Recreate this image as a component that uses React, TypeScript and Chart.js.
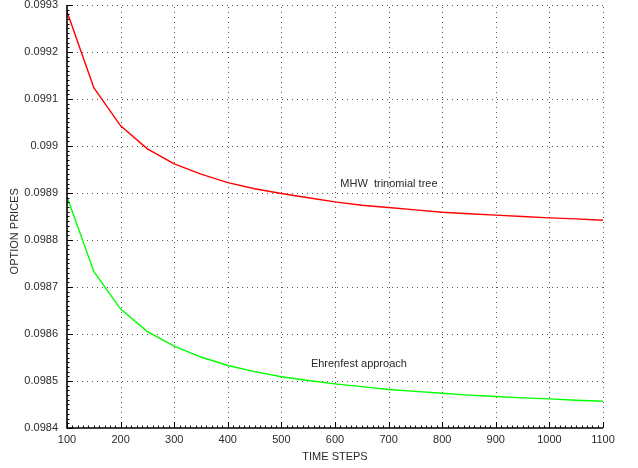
import React, { useEffect, useRef } from "react";
import { Chart, registerables } from "chart.js";

Chart.register(...registerables);

const timeSteps = [100, 150, 200, 250, 300, 350, 400, 450, 500, 550, 600, 650, 700, 750, 800, 850, 900, 950, 1000, 1050, 1100];
const mhwTrinomial = [0.099286, 0.099124, 0.099043, 0.098994, 0.098962, 0.09894, 0.098922, 0.098909, 0.098899, 0.09889, 0.098881, 0.098874, 0.098869, 0.098864, 0.098859, 0.098856, 0.098853, 0.09885, 0.098847, 0.098845, 0.098842];
const ehrenfest = [0.098892, 0.098733, 0.098653, 0.098605, 0.098574, 0.098551, 0.098533, 0.09852, 0.098509, 0.098501, 0.098494, 0.098488, 0.098482, 0.098478, 0.098474, 0.09847, 0.098467, 0.098464, 0.098462, 0.098459, 0.098457];
const xTicks = [100, 200, 300, 400, 500, 600, 700, 800, 900, 1000, 1100];
const yTicks = [0.0984, 0.0985, 0.0986, 0.0987, 0.0988, 0.0989, 0.099, 0.0991, 0.0992, 0.0993];
const labelMHW = "MHW  trinomial tree";
const labelEhrenfest = "Ehrenfest approach";
const annotationX = [610, 555];
const annotationY = [0.098919, 0.098536];
const xTitle = "TIME STEPS";
const yTitle = "OPTION PRICES";

const FONT = "'Liberation Sans', Arial, Helvetica, sans-serif";
const TEXT_COLOR = "#2a2a2a";

const axesPlugin = {
  id: "customAxes",
  beforeDatasetsDraw(chart: any) {
    const { ctx, chartArea } = chart;
    const xs = chart.scales.x;
    const ys = chart.scales.y;
    ctx.save();
    ctx.strokeStyle = "#555";
    ctx.lineWidth = 1;
    ctx.setLineDash([1, 4]);
    for (const v of xTicks) {
      if (v === xTicks[0]) continue;
      const px = Math.round(xs.getPixelForValue(v)) + 0.5;
      ctx.beginPath();
      ctx.moveTo(px, chartArea.bottom);
      ctx.lineTo(px, chartArea.top);
      ctx.stroke();
    }
    for (const v of yTicks) {
      if (v === yTicks[0]) continue;
      const py = Math.round(ys.getPixelForValue(v)) + 0.5;
      ctx.beginPath();
      ctx.moveTo(chartArea.left, py);
      ctx.lineTo(chartArea.right, py);
      ctx.stroke();
    }
    ctx.restore();
  },
  afterDatasetsDraw(chart: any) {
    const { ctx, chartArea } = chart;
    const xs = chart.scales.x;
    const ys = chart.scales.y;
    ctx.save();
    ctx.setLineDash([]);
    ctx.strokeStyle = "#000";
    ctx.lineWidth = 1;
    const xStep = (xTicks[1] - xTicks[0]) / 10;
    for (let i = 0; i <= (xTicks.length - 1) * 10; i++) {
      const v = xTicks[0] + i * xStep;
      const px = Math.round(xs.getPixelForValue(v)) + 0.5;
      const len = i % 10 === 0 ? 6 : 2.5;
      ctx.beginPath();
      ctx.moveTo(px, chartArea.bottom);
      ctx.lineTo(px, chartArea.bottom - len);
      ctx.stroke();
    }
    const yStep = (yTicks[1] - yTicks[0]) / 10;
    for (let i = 0; i <= (yTicks.length - 1) * 10; i++) {
      const v = yTicks[0] + i * yStep;
      const py = Math.round(ys.getPixelForValue(v)) + 0.5;
      const len = i % 10 === 0 ? 6 : 2.5;
      ctx.beginPath();
      ctx.moveTo(chartArea.left, py);
      ctx.lineTo(chartArea.left + len, py);
      ctx.stroke();
    }
    ctx.lineWidth = 1.6;
    ctx.beginPath();
    ctx.moveTo(chartArea.left, chartArea.top);
    ctx.lineTo(chartArea.left, chartArea.bottom);
    ctx.lineTo(chartArea.right, chartArea.bottom);
    ctx.stroke();
    ctx.fillStyle = TEXT_COLOR;
    ctx.font = `11px ${FONT}`;
    ctx.textAlign = "left";
    ctx.textBaseline = "middle";
    const labels = [labelMHW, labelEhrenfest];
    labels.forEach((t, i) => {
      ctx.fillText(t, xs.getPixelForValue(annotationX[i]), ys.getPixelForValue(annotationY[i]));
    });
    // y-axis title (placed slightly below the plot's middle, as in the original)
    ctx.save();
    ctx.translate(15, chartArea.top + (chartArea.bottom - chartArea.top) * 0.535);
    ctx.rotate(-Math.PI / 2);
    ctx.textAlign = "center";
    ctx.textBaseline = "middle";
    ctx.fillText(yTitle, 0, 0);
    ctx.restore();
    ctx.restore();
  },
};

function fmt(v: number) {
  return String(Math.round(v * 1e4) / 1e4);
}

export default function App() {
  const ref = useRef<HTMLCanvasElement | null>(null);
  useEffect(() => {
    document.body.style.margin = "0";
    const canvas = ref.current;
    if (!canvas) return;
    const chart = new Chart(canvas, {
      type: "line",
      data: {
        datasets: [
          {
            label: labelMHW,
            data: timeSteps.map((x, i) => ({ x, y: mhwTrinomial[i] })),
            borderColor: "#ff0000",
            borderWidth: 1.4,
            pointRadius: 0,
            tension: 0,
            fill: false,
          },
          {
            label: labelEhrenfest,
            data: timeSteps.map((x, i) => ({ x, y: ehrenfest[i] })),
            borderColor: "#00ff00",
            borderWidth: 1.4,
            pointRadius: 0,
            tension: 0,
            fill: false,
          },
        ],
      },
      options: {
        responsive: false,
        animation: false,
        devicePixelRatio: 1,
        layout: { padding: { top: 5, right: 35, left: 0, bottom: 0 } },
        plugins: { legend: { display: false }, tooltip: { enabled: false } },
        scales: {
          x: {
            type: "linear",
            min: xTicks[0],
            max: xTicks[xTicks.length - 1],
            grid: { display: false, drawTicks: false },
            border: { display: false },
            afterBuildTicks: (s: any) => {
              s.ticks = xTicks.map((v) => ({ value: v }));
            },
            afterFit: (s: any) => {
              s.height = 40;
              s.paddingLeft = 0;
              s.paddingRight = 0;
            },
            ticks: {
              padding: 5,
              color: TEXT_COLOR,
              font: { family: FONT, size: 11 },
              maxRotation: 0,
              autoSkip: false,
              callback: (v: any) => String(v),
            },
            title: {
              display: true,
              text: xTitle,
              color: TEXT_COLOR,
              font: { family: FONT, size: 11 },
              padding: { top: 0, bottom: 4 },
            },
          },
          y: {
            type: "linear",
            min: yTicks[0],
            max: yTicks[yTicks.length - 1],
            grid: { display: false, drawTicks: false },
            border: { display: false },
            afterBuildTicks: (s: any) => {
              s.ticks = yTicks.map((v) => ({ value: v }));
            },
            afterFit: (s: any) => {
              s.width = 67;
              s.paddingTop = 0;
              s.paddingBottom = 0;
            },
            ticks: {
              padding: 9,
              color: TEXT_COLOR,
              font: { family: FONT, size: 11 },
              autoSkip: false,
              callback: (v: any) => fmt(Number(v)),
            },
            title: { display: false },
          },
        },
      },
      plugins: [axesPlugin],
    } as any);
    return () => chart.destroy();
  }, []);
  return (
    <div style={{ position: "absolute", left: 0, top: 0, width: 638, height: 468, background: "#fff" }}>
      <canvas ref={ref} width={638} height={468} style={{ width: 638, height: 468, display: "block" }} />
    </div>
  );
}
